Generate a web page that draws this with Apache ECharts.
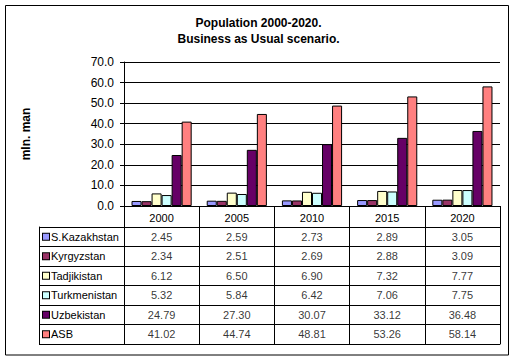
<!DOCTYPE html>
<html>
<head>
<meta charset="utf-8">
<script src="https://cdn.jsdelivr.net/npm/echarts@6/dist/echarts.min.js"></script>
<style>
html,body{margin:0;padding:0;background:#fff;}
#c{width:517px;height:361px;}
</style>
</head>
<body>
<div id="c"></div>
<script>
var years = ['2000', '2005', '2010', '2015', '2020'];
var countries = ['S.Kazakhstan', 'Kyrgyzstan', 'Tadjikistan', 'Turkmenistan', 'Uzbekistan', 'ASB'];
var colors = ['#9999FF', '#993366', '#FFFFCC', '#CCFFFF', '#660066', '#FF8080'];
var sKazakhstan = [2.45, 2.59, 2.73, 2.89, 3.05];
var kyrgyzstan = [2.34, 2.51, 2.69, 2.88, 3.09];
var tadjikistan = [6.12, 6.50, 6.90, 7.32, 7.77];
var turkmenistan = [5.32, 5.84, 6.42, 7.06, 7.75];
var uzbekistan = [24.79, 27.30, 30.07, 33.12, 36.48];
var asb = [41.02, 44.74, 48.81, 53.26, 58.14];
var yTicks = [0, 10, 20, 30, 40, 50, 60, 70];

var values = [sKazakhstan, kyrgyzstan, tadjikistan, turkmenistan, uzbekistan, asb];
var FONT = "'Liberation Sans', Arial, sans-serif";

var rich = { t: { fontSize: 11, fontFamily: FONT, color: '#000', padding: [0, 0, 0, 2] } };
countries.forEach(function (c, i) {
  rich['i' + i] = { width: 6, height: 6, backgroundColor: colors[i], borderColor: '#000', borderWidth: 1 };
});

var series = [];
countries.forEach(function (c, i) {
  series.push({
    type: 'bar', name: c, xAxisIndex: 0, yAxisIndex: 0,
    data: values[i],
    barGap: 0, barCategoryGap: '20%',
    itemStyle: { color: colors[i], borderColor: '#000', borderWidth: 1 },
    silent: true
  });
});
countries.forEach(function (c, i) {
  series.push({
    type: 'scatter', xAxisIndex: 1, yAxisIndex: 1,
    symbolSize: 0, silent: true,
    data: values[i].map(function (v, j) { return [j, i, v]; }),
    label: {
      show: true, position: 'inside', color: '#000', fontSize: 11, fontFamily: FONT,
      formatter: function (p) { return p.value[2].toFixed(2); }
    }
  });
});

var chart = echarts.init(document.getElementById('c'), null, { renderer: 'svg' });
chart.setOption({
  animation: false,
  backgroundColor: '#fff',
  title: {
    text: 'Population 2000-2020.\nBusiness as Usual scenario.',
    left: 'center', top: 10,
    textStyle: { fontSize: 12, fontWeight: 'bold', fontFamily: FONT, color: '#000', lineHeight: 16 }
  },
  graphic: [{
    type: 'rect', shape: { x: 5.5, y: 5.5, width: 503, height: 349.5 },
    style: { fill: 'none', stroke: '#000', lineWidth: 1 }, silent: true
  }],
  grid: [
    { left: 124, top: 62, width: 376, height: 144 },
    { left: 124, top: 227, width: 376, height: 117 }
  ],
  xAxis: [
    {
      type: 'category', gridIndex: 0, data: years,
      axisLine: { lineStyle: { color: '#000', width: 1 } },
      axisTick: { show: true, length: 21, lineStyle: { color: '#000' } },
      axisLabel: { color: '#000', fontSize: 11, fontFamily: FONT, margin: 6 }
    },
    {
      type: 'category', gridIndex: 1, data: years,
      axisLine: { show: true, lineStyle: { color: '#000' } },
      axisTick: { show: false }, axisLabel: { show: false },
      splitLine: { show: true, lineStyle: { color: '#000', width: 1 } }
    }
  ],
  yAxis: [
    {
      type: 'value', gridIndex: 0, min: 0, max: 70, interval: 10,
      name: 'mln. man', nameLocation: 'middle', nameRotate: 90, nameGap: 92,
      nameTextStyle: { fontSize: 12, fontWeight: 'bold', fontFamily: FONT, color: '#000' },
      axisLine: { show: true, lineStyle: { color: '#000' } },
      axisTick: { show: true, length: 4, lineStyle: { color: '#000' } },
      axisLabel: { color: '#000', fontSize: 12, fontFamily: FONT, margin: 10,
        formatter: function (v) { return yTicks.indexOf(v) >= 0 ? v.toFixed(1) : ''; } },
      splitLine: { show: true, lineStyle: { color: '#000', width: 1 } }
    },
    {
      type: 'category', gridIndex: 1, data: countries, inverse: true,
      axisLine: { show: true, lineStyle: { color: '#000' } },
      axisTick: { show: true, length: 85, lineStyle: { color: '#000' } },
      axisLabel: {
        align: 'left', margin: 81, rich: rich,
        formatter: function (v, i) { return '{i' + countries.indexOf(v) + '| }{t|' + v + '}'; }
      },
      splitLine: { show: true, lineStyle: { color: '#000', width: 1 } }
    },
    {
      type: 'category', gridIndex: 1, data: countries, inverse: true, position: 'left', offset: 85,
      axisLine: { show: true, lineStyle: { color: '#000' } },
      axisTick: { show: false }, axisLabel: { show: false }, splitLine: { show: false }
    }
  ],
  series: series
});
</script>
</body>
</html>
